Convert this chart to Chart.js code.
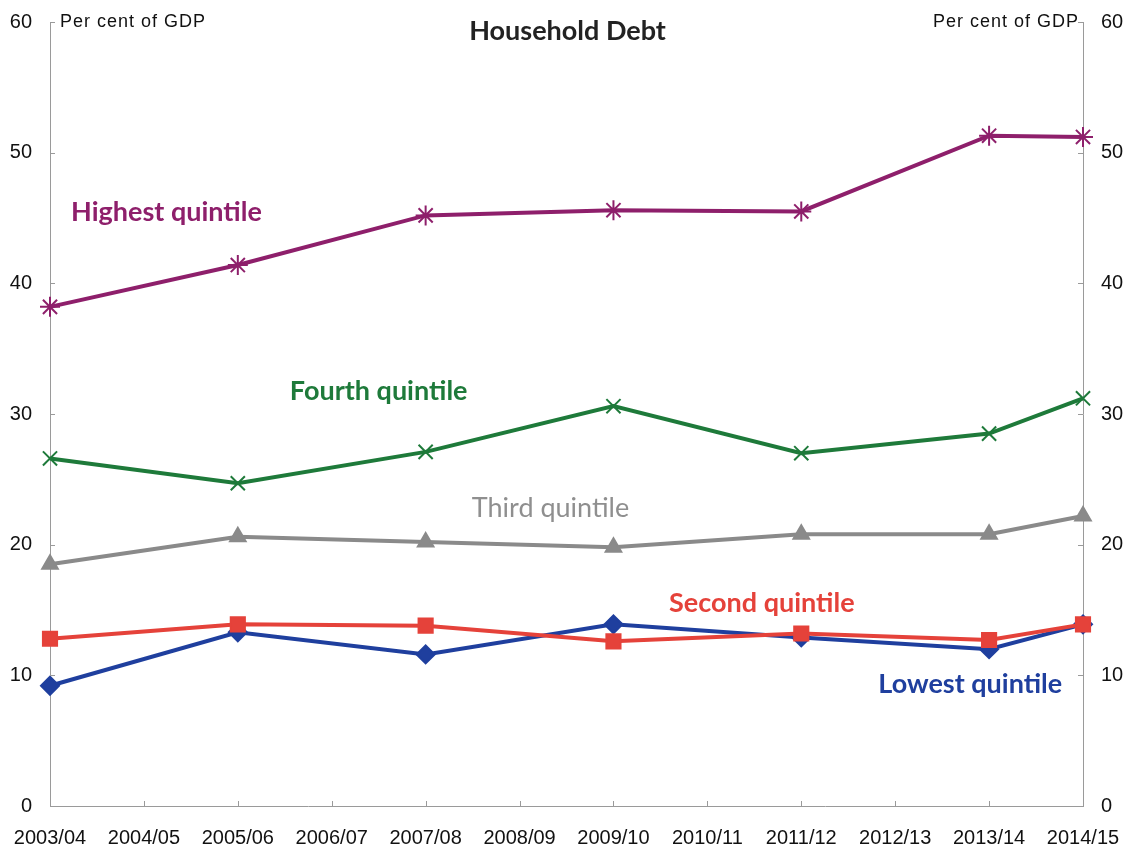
<!DOCTYPE html>
<html>
<head>
<meta charset="utf-8">
<title>Household Debt</title>
<script src="https://cdn.jsdelivr.net/npm/chart.js@4.4.1/dist/chart.umd.min.js"></script>
<style>
  html, body { margin: 0; padding: 0; background: #fff; }
  #wrap { width: 1128px; height: 845px; }
</style>
</head>
<body>
<div id="wrap"><canvas id="debtChart" width="1128" height="845"></canvas></div>
<script>
//financial years
var years = ["2003/04","2004/05","2005/06","2006/07","2007/08","2008/09","2009/10","2010/11","2011/12","2012/13","2013/14","2014/15"];
//per cent of GDP, null = no survey that year
var highest = [38.2, null, 41.4, null, 45.2, null, 45.6, null, 45.5, null, 51.3, 51.2];
var fourth  = [26.6, null, 24.7, null, 27.1, null, 30.6, null, 27.0, null, 28.5, 31.2];
var third   = [18.5, null, 20.6, null, 20.2, null, 19.8, null, 20.8, null, 20.8, 22.2];
var second  = [12.8, null, 13.9, null, 13.8, null, 12.6, null, 13.2, null, 12.7, 13.9];
var lowest  = [9.2,  null, 13.3, null, 11.6, null, 13.9, null, 12.9, null, 12.0, 13.9];
//y axis ticks
var yTicks = [0, 10, 20, 30, 40, 50, 60];

var axisGrey = "#9a9a9a";
var tickFont = { family: "'Liberation Sans', Arial, sans-serif", size: 20 };

//series names written on the plot (x = category index, y = value)
var seriesLabels = [
  { text: "Highest quintile", x: 1.24, y: 45.4, color: "#8e1f6b", weight: "bold" },
  { text: "Fourth quintile",  x: 3.5,  y: 31.7, color: "#1e7a3a", weight: "bold" },
  { text: "Third quintile",   x: 5.33, y: 22.8, color: "#8f8f8f", weight: "normal" },
  { text: "Second quintile",  x: 7.58, y: 15.5, color: "#e5423a", weight: "bold" },
  { text: "Lowest quintile",  x: 9.8,  y: 9.3,  color: "#1f3f9e", weight: "bold" }
];

var makeSeries = function(label, data, color, style, radius){
  return {
    label: label,
    data: data,
    spanGaps: true,
    borderColor: color,
    backgroundColor: color,
    borderWidth: 4,
    tension: 0,
    pointStyle: style,
    pointRadius: radius,
    pointBorderColor: color,
    pointBackgroundColor: color,
    pointBorderWidth: 2
  };
};

//inward tick marks + titles + series names
var decorPlugin = {
  id: "decor",
  afterDraw: function(chart){
    var ctx = chart.ctx;
    var area = chart.chartArea;
    var xs = chart.scales.x, ys = chart.scales.y;
    ctx.save();
    ctx.strokeStyle = axisGrey;
    ctx.lineWidth = 1;
    ctx.beginPath();
    for (var i = 0; i < yTicks.length; i++){
      var py = Math.round(ys.getPixelForValue(yTicks[i])) + 0.5;
      ctx.moveTo(area.left, py); ctx.lineTo(area.left + 5, py);
      ctx.moveTo(area.right - 5, py); ctx.lineTo(area.right, py);
    }
    for (var j = 0; j < years.length; j++){
      var px = Math.round(xs.getPixelForValue(j)) + 0.5;
      ctx.moveTo(px, area.bottom); ctx.lineTo(px, area.bottom - 5);
    }
    ctx.stroke();

    //unit labels
    ctx.fillStyle = "#111";
    ctx.font = "18px 'Liberation Sans', Arial, sans-serif";
    ctx.letterSpacing = "1px";
    ctx.textBaseline = "middle";
    ctx.textAlign = "left";
    ctx.fillText("Per cent of GDP", area.left + 10, area.top);
    ctx.textAlign = "right";
    ctx.fillText("Per cent of GDP", area.right - 4, area.top);
    ctx.letterSpacing = "0px";

    //title
    ctx.font = "bold 27px Lato, 'Open Sans', sans-serif";
    ctx.textAlign = "center";
    ctx.fillStyle = "#222";
    ctx.fillText("Household Debt", (area.left + area.right) / 2 + 1, area.top + 9);

    //series names
    for (var k = 0; k < seriesLabels.length; k++){
      var s = seriesLabels[k];
      ctx.font = s.weight + " 27px Lato, 'Open Sans', sans-serif";
      ctx.fillStyle = s.color;
      ctx.fillText(s.text, xs.getPixelForValue(s.x), ys.getPixelForValue(s.y));
    }
    ctx.restore();
  }
};

var yAxis = function(pos, width){
  return {
    type: "linear",
    position: pos,
    min: 0,
    max: 60,
    grid: { display: false },
    border: { display: true, color: axisGrey, width: 1 },
    ticks: { stepSize: 10, font: tickFont, color: "#111", padding: 10 },
    afterFit: function(scale){ scale.width = width; }
  };
};

var ctx = document.getElementById("debtChart").getContext("2d");
var debtChart = new Chart(ctx, {
  type: "line",
  data: {
    labels: years,
    datasets: [
      makeSeries("Highest quintile", highest, "#8e1f6b", "star", 10),
      makeSeries("Fourth quintile", fourth, "#1e7a3a", "crossRot", 10),
      makeSeries("Third quintile", third, "#8a8a8a", "triangle", 9),
      makeSeries("Second quintile", second, "#e5423a", "rect", 10),
      makeSeries("Lowest quintile", lowest, "#1f3f9e", "rectRot", 9)
    ]
  },
  options: {
    responsive: false,
    animation: false,
    layout: { padding: { top: 22, left: 0, right: 0, bottom: 0 } },
    plugins: {
      legend: { display: false },
      tooltip: { enabled: false }
    },
    scales: {
      x: {
        type: "category",
        offset: false,
        grid: { display: false },
        border: { display: true, color: axisGrey, width: 1 },
        ticks: { font: tickFont, color: "#111", autoSkip: false, maxRotation: 0, padding: 12 },
        afterFit: function(scale){
          scale.height = 39;
          //end labels may hang past the side axes
          scale.paddingLeft = 0;
          scale.paddingRight = 0;
        }
      },
      y: yAxis("left", 50),
      y2: yAxis("right", 45)
    }
  },
  plugins: [decorPlugin]
});
</script>
</body>
</html>
